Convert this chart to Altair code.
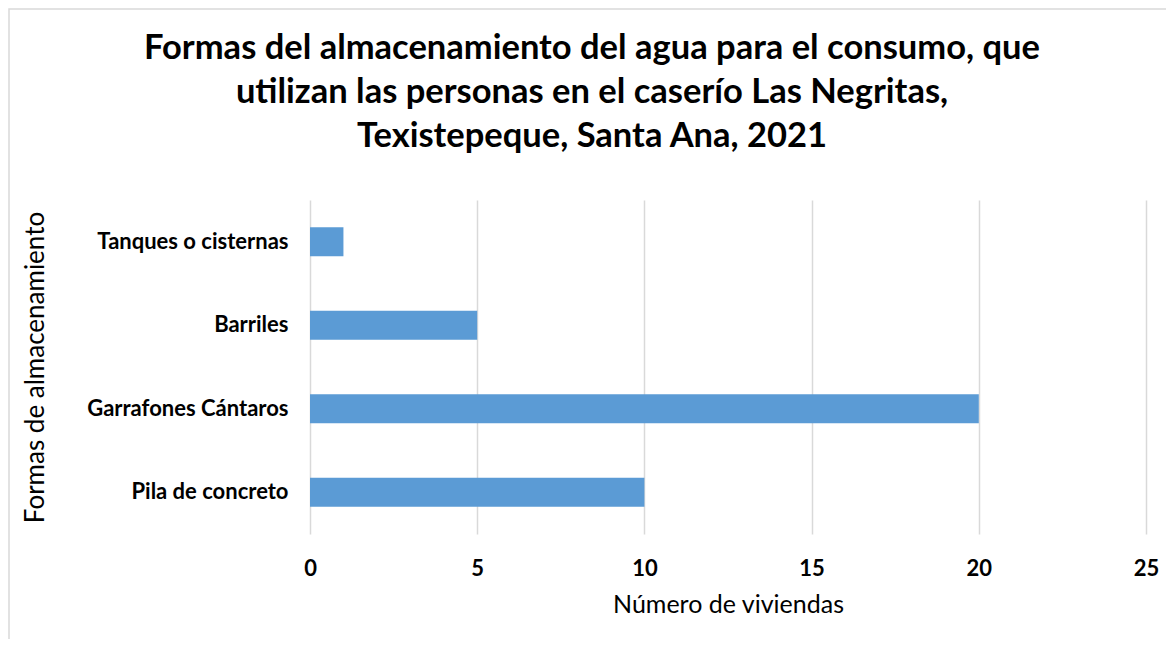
import altair as alt
import pandas as pd

categories = ["Tanques o cisternas", "Barriles", "Garrafones Cántaros", "Pila de concreto"]
values = [1, 5, 20, 10]
x_ticks = [0, 5, 10, 15, 20, 25]
title_lines = [
    "Formas del almacenamiento del agua para el consumo, que",
    "utilizan las personas en el caserío Las Negritas,",
    "Texistepeque, Santa Ana, 2021",
]

df = pd.DataFrame({"forma": categories, "viviendas": values})

FONT = "Lato"

bars = alt.Chart(df).mark_bar(color="#5b9bd5").encode(
    y=alt.Y(
        "forma:N",
        sort=categories,
        scale=alt.Scale(paddingInner=0.65, paddingOuter=0.325),
        axis=alt.Axis(
            title="Formas de almacenamiento",
            titleFont=FONT,
            titleFontWeight="normal",
            titleFontSize=26,
            titleColor="#000000",
            titleAngle=-90,
            titleX=-275,
            titleY=167,
            titleAlign="center",
            titleBaseline="middle",
            labelFont=FONT,
            labelFontWeight="bold",
            labelFontSize=22,
            labelColor="#000000",
            labelPadding=22,
            labelLimit=400,
            domain=False,
            ticks=False,
            grid=False,
        ),
    ),
    x=alt.X(
        "viviendas:Q",
        scale=alt.Scale(domain=[0, 25], nice=False),
        axis=alt.Axis(
            title="Número de viviendas",
            titleFont=FONT,
            titleFontWeight="normal",
            titleFontSize=25,
            titleColor="#000000",
            titleY=70,
            titleBaseline="middle",
            values=x_ticks,
            format="d",
            labelFont=FONT,
            labelFontWeight="bold",
            labelFontSize=22,
            labelColor="#000000",
            labelPadding=24,
            labelFlush=False,
            labelOverlap=False,
            domain=False,
            ticks=False,
            grid=True,
            gridColor="#d9d9d9",
            gridWidth=1.5,
        ),
    ),
)

border = alt.Chart(alt.Data(values=[{"a": 1}])).mark_rect(
    fill=None, stroke="#d9d9d9", strokeWidth=1.5, clip=False
).encode(
    x=alt.value(-301), x2=alt.value(870), y=alt.value(-191), y2=alt.value(460)
)

title = alt.Chart(alt.Data(values=[{"a": 1}])).mark_text(
    text=title_lines,
    font=FONT,
    fontSize=34.5,
    fontWeight="bold",
    color="#000000",
    align="center",
    baseline="alphabetic",
    lineHeight=44,
).encode(x=alt.value(282), y=alt.value(-141))

chart = alt.layer(border, bars, title).properties(
    width=836,
    height=334,
    autosize=alt.AutoSizeParams(type="none"),
    padding={"left": 302, "top": 192, "right": 20, "bottom": 105},
).configure_view(stroke=None)

chart.save("out.html", embed_options={"renderer": "svg", "actions": False})
